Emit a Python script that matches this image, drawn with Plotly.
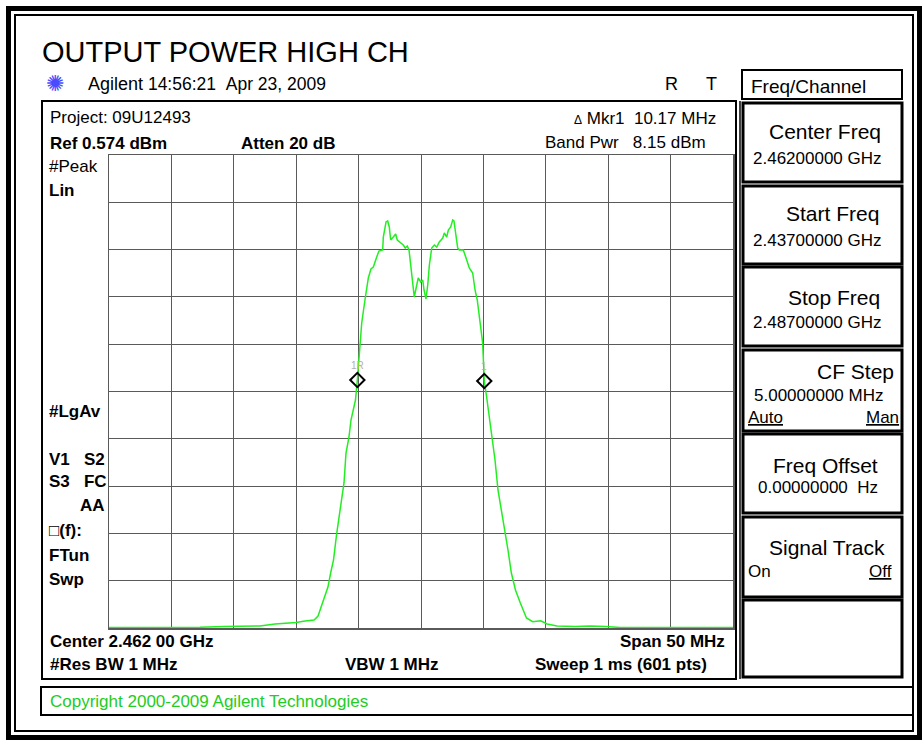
import plotly.graph_objects as go

# ---------------- data ----------------
freq_mhz = [2437.00, 2439.48, 2441.89, 2444.29, 2446.21, 2447.50, 2449.10, 2450.30, 2451.10, 2451.98,
            2452.71, 2453.43, 2453.75, 2453.91, 2454.27, 2454.55, 2454.76, 2454.99, 2455.25, 2455.41,
            2455.64, 2455.83, 2455.99, 2456.23, 2456.39, 2456.63, 2456.75, 2456.90, 2457.04, 2457.08,
            2457.25, 2457.51, 2457.78, 2457.99, 2458.18, 2458.45, 2458.63, 2458.93, 2458.98, 2459.20,
            2459.33, 2459.46, 2459.57, 2459.78, 2459.97, 2460.10, 2460.32, 2460.58, 2460.74, 2460.90,
            2461.04, 2461.20, 2461.38, 2461.46, 2461.66, 2461.78, 2461.98, 2462.14, 2462.24, 2462.40,
            2462.54, 2462.67, 2462.86, 2463.07, 2463.26, 2463.47, 2463.74, 2463.87, 2464.06, 2464.19,
            2464.38, 2464.54, 2464.64, 2464.80, 2464.94, 2465.07, 2465.39, 2465.61, 2465.87, 2466.14,
            2466.33, 2466.51, 2466.73, 2466.94, 2466.99, 2467.07, 2467.26, 2467.51, 2467.75, 2467.93,
            2468.17, 2468.49, 2468.73, 2468.97, 2469.24, 2469.57, 2469.96, 2470.45, 2470.95, 2471.60,
            2472.10, 2472.90, 2474.34, 2475.54, 2476.82, 2477.95, 2480.35, 2484.36, 2487.00]
level_pct = [0.11, 0.11, 0.11, 0.15, 0.32, 0.32, 0.42, 0.85, 0.95, 1.16,
             1.48, 1.69, 2.54, 3.81, 6.34, 8.70, 11.63, 14.38, 20.08, 22.83,
             27.06, 30.66, 37.00, 40.38, 43.97, 46.72, 48.20, 52.43, 57.29, 60.25,
             64.48, 69.34, 74.00, 75.90, 76.32, 78.44, 79.70, 79.92, 82.66, 85.84,
             86.05, 84.78, 82.03, 82.66, 83.30, 82.03, 81.61, 80.97, 80.34, 80.76,
             79.92, 75.69, 71.46, 69.98, 72.52, 74.00, 73.15, 73.57, 71.46, 69.56,
             72.52, 76.74, 80.34, 80.97, 80.55, 81.61, 82.45, 83.51, 82.66, 84.14,
             84.78, 86.26, 86.05, 83.51, 80.34, 79.92, 79.92, 78.22, 76.11, 75.05,
             71.46, 69.34, 65.12, 60.25, 57.29, 52.22, 48.84, 43.97, 39.75, 35.52,
             29.18, 24.31, 20.72, 16.49, 11.63, 8.03, 5.29, 2.11, 1.33, 1.54,
             0.85, 0.42, 0.32, 0.42, 0.32, 0.11, 0.11, 0.11, 0.11]
marker_freq = [2456.90, 2467.07]
marker_level = [52.43, 52.22]
marker_labels = ["1R", "1"]

start_freq, stop_freq = 2437.0, 2487.0
freq_div = 5.0

left_labels = [("#Peak", 166, False, "left"), ("Lin", 190, True, "left"), ("#LgAv", 411, True, "left"),
               ("V1&nbsp;&nbsp;&nbsp;S2", 459, True, "left"), ("S3&nbsp;&nbsp;&nbsp;FC", 481, True, "left"),
               ("AA", 505, True, "right"), ("□(f):", 530, True, "left"), ("FTun", 555, True, "left"),
               ("Swp", 579, True, "left")]

W, H = 923, 740
def px(x): return x / W
def py(y): return 1 - y / H

FONT = "Liberation Sans, Arial, sans-serif"

fig = go.Figure()
fig.add_trace(go.Scatter(x=freq_mhz, y=level_pct, mode="lines",
                         line=dict(color="#22ee22", width=1.5), hoverinfo="skip"))
fig.add_trace(go.Scatter(x=marker_freq, y=marker_level, mode="markers",
                         marker=dict(symbol="diamond-open", size=11, color="black", line=dict(width=2, color="black")),
                         hoverinfo="skip"))

ann = []
def txt(x, y, s, size=17, bold=False, anchor="left", color="black"):
    if bold:
        s = "<b>" + s + "</b>"
    ann.append(dict(x=px(x), y=py(y), xref="paper", yref="paper", text=s, showarrow=False,
                    xanchor=anchor, yanchor="middle", font=dict(family=FONT, size=size, color=color)))

# Title and header
txt(40, 52, "OUTPUT POWER HIGH CH", size=29)
txt(44, 84, "✺", size=22, color="#4a4aff")
txt(86, 84, "<span style='font-size:18px'>Agilent</span>&nbsp;14:56:21&nbsp;&nbsp;Apr 23, 2009", size=17.5)
txt(663, 84, "R", size=18)
txt(704, 84, "T", size=18)

# Display info lines
txt(48, 117, "Project: 09U12493", size=17)
txt(48, 143, "Ref 0.574 dBm", bold=True)
txt(239, 143, "Atten 20 dB", bold=True)
txt(718, 118, "<span style='font-size:12px'>Δ</span> Mkr1&nbsp;&nbsp;10.17 MHz", anchor="right")
txt(708, 142, "Band Pwr&nbsp;&nbsp;&nbsp;8.15 dBm", anchor="right")
for s, y, b, a in left_labels:
    txt(107 if a == "right" else 47, y, s, bold=b, anchor=a)
txt(48, 641, "Center 2.462 00 GHz", bold=True)
txt(727, 641, "Span 50 MHz", bold=True, anchor="right")
txt(48, 664, "#Res BW 1 MHz", bold=True)
txt(343, 664, "VBW 1 MHz", bold=True)
txt(709, 664, "Sweep 1 ms (601 pts)", bold=True, anchor="right")
txt(48, 701, "Copyright 2000-2009 Agilent Technologies", color="#22cc22")

# Softkeys
txt(749, 86, "Freq/Channel", size=19)
txt(883, 132, "Center Freq", size=21, anchor="right")
txt(884, 158, "2.46200000 GHz", anchor="right")
txt(881, 214, "Start Freq", size=21, anchor="right")
txt(884, 240, "2.43700000 GHz", anchor="right")
txt(882, 297, "Stop Freq", size=21, anchor="right")
txt(884, 322, "2.48700000 GHz", anchor="right")
txt(896, 371, "CF Step", size=21, anchor="right")
txt(885, 395, "5.00000000 MHz", anchor="right")
txt(746, 417, "<u>Auto</u>")
txt(901, 417, "<u>Man</u>", anchor="right")
txt(880, 465, "Freq Offset", size=21, anchor="right")
txt(880, 487, "0.00000000&nbsp;&nbsp;Hz", anchor="right")
txt(887, 547, "Signal Track", size=21, anchor="right")
txt(746, 571, "On")
txt(894, 571, "<u>Off</u>", anchor="right")

# marker labels
for f, l, lab in zip(marker_freq, marker_level, marker_labels):
    ann.append(dict(x=f, y=l, xref="x", yref="y", text=lab, showarrow=False, yshift=15,
                    font=dict(family=FONT, size=10, color="#b0b0b0")))

shapes = []
def rect(x0, y0, x1, y1, w=2, color="black"):
    shapes.append(dict(type="rect", xref="paper", yref="paper", x0=px(x0), x1=px(x1), y0=py(y1), y1=py(y0),
                       line=dict(color=color, width=w), fillcolor="rgba(0,0,0,0)"))
def vline(x, y0, y1, w=1.5):
    shapes.append(dict(type="line", xref="paper", yref="paper", x0=px(x), x1=px(x), y0=py(y0), y1=py(y1),
                       line=dict(color="black", width=w)))

rect(8.5, 8.5, 919.5, 737.5, w=5)
rect(15, 15, 913, 731, w=2)
rect(42, 101, 736, 679, w=2)
vline(740, 101, 679, w=1.5)
rect(41, 687, 913, 715, w=2)
rect(742, 70, 902, 99, w=2)
for y0, y1 in [(103, 182), (186, 264), (267, 346), (350, 431), (434, 513), (517, 597), (600, 677)]:
    rect(743, y0, 902, y1, w=3)

GRID = "#5a5a5a"
fig.update_layout(
    width=W, height=H, autosize=False, margin=dict(l=0, r=0, t=0, b=0),
    paper_bgcolor="white", plot_bgcolor="white", showlegend=False,
    annotations=ann, shapes=shapes,
    xaxis=dict(domain=[px(109), px(733)], range=[start_freq, stop_freq], tick0=start_freq, dtick=freq_div,
               showgrid=True, gridcolor=GRID, gridwidth=1, showticklabels=False, ticks="",
               zeroline=False, showline=True, mirror=True, linecolor=GRID, linewidth=1.5, fixedrange=True),
    yaxis=dict(domain=[py(628), py(155)], range=[0, 100], tick0=0, dtick=10,
               showgrid=True, gridcolor=GRID, gridwidth=1, showticklabels=False, ticks="",
               zeroline=False, showline=True, mirror=True, linecolor=GRID, linewidth=1.5, fixedrange=True),
)

fig.write_html("out.html", config={"displayModeBar": False, "staticPlot": True},
               post_script="document.body.style.margin='0';document.body.style.overflow='hidden';")
